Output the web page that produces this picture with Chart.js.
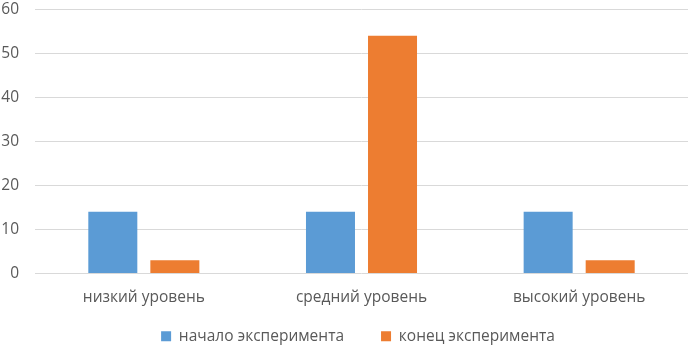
<!DOCTYPE html>
<html>
<head>
<meta charset="utf-8">
<script src="https://cdn.jsdelivr.net/npm/chart.js@4"></script>
<style>
html,body{margin:0;padding:0;background:#fff;overflow:hidden;}
#wrap{width:688px;height:345px;position:relative;overflow:hidden;}
#c{position:absolute;left:0;top:-16px;}
</style>
</head>
<body>
<div id="wrap"><canvas id="c" width="688" height="392"></canvas></div>
<script>
const categories = ["низкий уровень", "средний уровень", "высокий уровень"];
const seriesNames = ["начало эксперимента", "конец эксперимента"];
const startValues = [14, 14, 14];
const endValues = [3, 54, 3];
const yTicks = [0, 10, 20, 30, 40, 50, 60];

const textColor = "#595959";
const fontFamily = "'Open Sans', 'Liberation Sans', sans-serif";

// shift the legend drawing (keeps wide horizontal spacing without a tall gap)
const legendShift = {
  id: "legendShift",
  afterInit(chart) {
    const lg = chart.legend;
    if (!lg || lg._shifted) return;
    const origDraw = lg.draw.bind(lg);
    lg.draw = function (area) {
      const ctx = chart.ctx;
      ctx.save();
      ctx.translate(14, -22);
      origDraw(area);
      ctx.restore();
    };
    lg._shifted = true;
  }
};

new Chart(document.getElementById("c"), {
  type: "bar",
  data: {
    labels: categories,
    datasets: [
      { label: seriesNames[0], data: startValues, backgroundColor: "#5B9BD5", barPercentage: 0.79, categoryPercentage: 0.57 },
      { label: seriesNames[1], data: endValues, backgroundColor: "#ED7D31", barPercentage: 0.79, categoryPercentage: 0.57 }
    ]
  },
  plugins: [legendShift],
  options: {
    responsive: false,
    animation: false,
    devicePixelRatio: 1,
    layout: { padding: 0 },
    plugins: {
      tooltip: { enabled: false },
      legend: {
        position: "bottom",
        labels: {
          boxWidth: 10, boxHeight: 10, padding: 37,
          color: textColor,
          font: { family: fontFamily, size: 15.5 }
        }
      }
    },
    scales: {
      x: {
        grid: { display: false },
        border: { display: false },
        afterFit: (axis) => { axis.height = 40; },
        ticks: { color: textColor, font: { family: fontFamily, size: 15.5 }, padding: 7 }
      },
      y: {
        min: 0, max: 60,
        afterBuildTicks: (axis) => { axis.ticks = yTicks.map(v => ({ value: v })); },
        afterFit: (axis) => { axis.width = 35; },
        grid: { color: "#d9d9d9", lineWidth: 1, drawTicks: false },
        border: { display: false },
        ticks: { color: textColor, font: { family: fontFamily, size: 15.5 }, padding: 16 }
      }
    }
  }
});
</script>
</body>
</html>
